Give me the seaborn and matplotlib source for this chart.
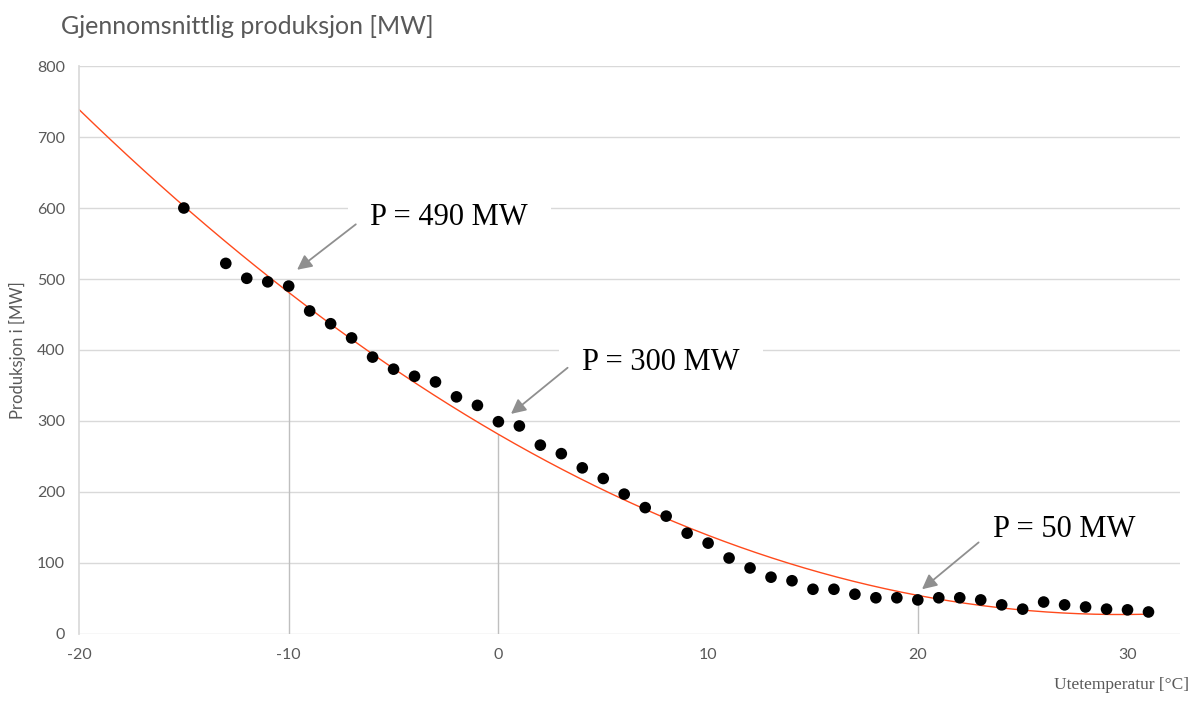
import numpy as np
import pandas as pd
import matplotlib
matplotlib.use("Agg")
import matplotlib.pyplot as plt
import seaborn as sns

# measured points: outdoor temperature vs average production
temperature = [-15, -13, -12, -11, -10, -9, -8, -7, -6, -5, -4, -3, -2, -1, 0, 1, 2, 3,
               4, 5, 6, 7, 8, 9, 10, 11, 12, 13, 14, 15, 16, 17, 18, 19, 20, 21, 22,
               23, 24, 25, 26, 27, 28, 29, 30, 31]
production = [600, 522, 501, 496, 490, 455, 437, 417, 390, 373, 363, 355, 334, 322, 299,
              293, 266, 254, 234, 219, 197, 178, 166, 142, 128, 107, 93, 80, 75, 63, 63,
              56, 51, 51, 48, 51, 51, 48, 41, 35, 45, 41, 38, 35, 34, 31]

marked_temps = [-10, 0, 20]
marked_labels = ["P = 490 MW", "P = 300 MW", "P = 50 MW"]

df = pd.DataFrame({"temp": temperature, "prod": production})

# 2nd order trendline fitted to the data, extended back to -20
coef = np.polyfit(df["temp"], df["prod"], 2)
trend = pd.DataFrame({"temp": np.linspace(-20, 31, 200)})
trend["prod"] = np.polyval(coef, trend["temp"])

sns.set_theme(style="white")
plt.rcParams["font.family"] = ["Lato", "DejaVu Sans"]
plt.rcParams["axes.unicode_minus"] = False

fig = plt.figure(figsize=(11.95, 7.06), dpi=100)
ax = fig.add_axes([0.0661, 0.102, 0.9213, 0.8045])

grey = "#595959"
grid = "#d9d9d9"

ax.set_xlim(-20, 32.5)
ax.set_ylim(0, 800)
ax.set_xticks(range(-20, 31, 10))
ax.set_yticks(range(0, 801, 100))
ax.grid(axis="y", color=grid, lw=1)
ax.set_axisbelow(True)
for s in ["top", "right", "bottom"]:
    ax.spines[s].set_visible(False)
ax.spines["left"].set_color(grid)
ax.tick_params(axis="both", length=0, labelsize=11.5, labelcolor=grey, pad=10)

# drop lines from the curve at marked temperatures
for t in marked_temps:
    ax.vlines(t, 0, np.polyval(coef, t), color="#bfbfbf", lw=1, zorder=1)

sns.lineplot(data=trend, x="temp", y="prod", color="#ff4a1c", lw=1, ax=ax, zorder=2)
sns.scatterplot(data=df, x="temp", y="prod", color="black", s=70, edgecolor="none",
                ax=ax, zorder=3)

# annotations: text box position, arrow tail and arrow tip
text_pos = [(-6.1, 586), (4.0, 382), (23.6, 147)]
tails = [(-6.8, 577), (3.3, 375), (22.9, 129)]
tips = [(-9.6, 513), (0.6, 310), (20.2, 63)]
pads = [0.75, 0.75, 0.3]
for lab, tp, tail, tip, pd_ in zip(marked_labels, text_pos, tails, tips, pads):
    ax.text(tp[0], tp[1], lab, family="Liberation Serif", fontsize=22, color="black",
            va="center", ha="left", zorder=4,
            bbox=dict(boxstyle=f"square,pad={pd_}", facecolor="white", edgecolor="none"))
    ax.annotate("", xy=tip, xytext=tail, zorder=5,
                arrowprops=dict(arrowstyle="-|>", color="#8f8f8f", lw=1.3,
                                mutation_scale=22, shrinkA=0, shrinkB=0))

ax.set_xlabel("")
ax.set_ylabel("Produksjon i [MW]", fontsize=12, color=grey, labelpad=8)
fig.text(0.995, 0.018, "Utetemperatur [°C]", family="Liberation Serif", fontsize=12.5,
         color=grey, ha="right", va="bottom")
fig.text(0.051, 0.962, "Gjennomsnittlig produksjon [MW]", fontsize=18, color=grey,
         ha="left", va="center")

fig.savefig("out.png", dpi=100)
